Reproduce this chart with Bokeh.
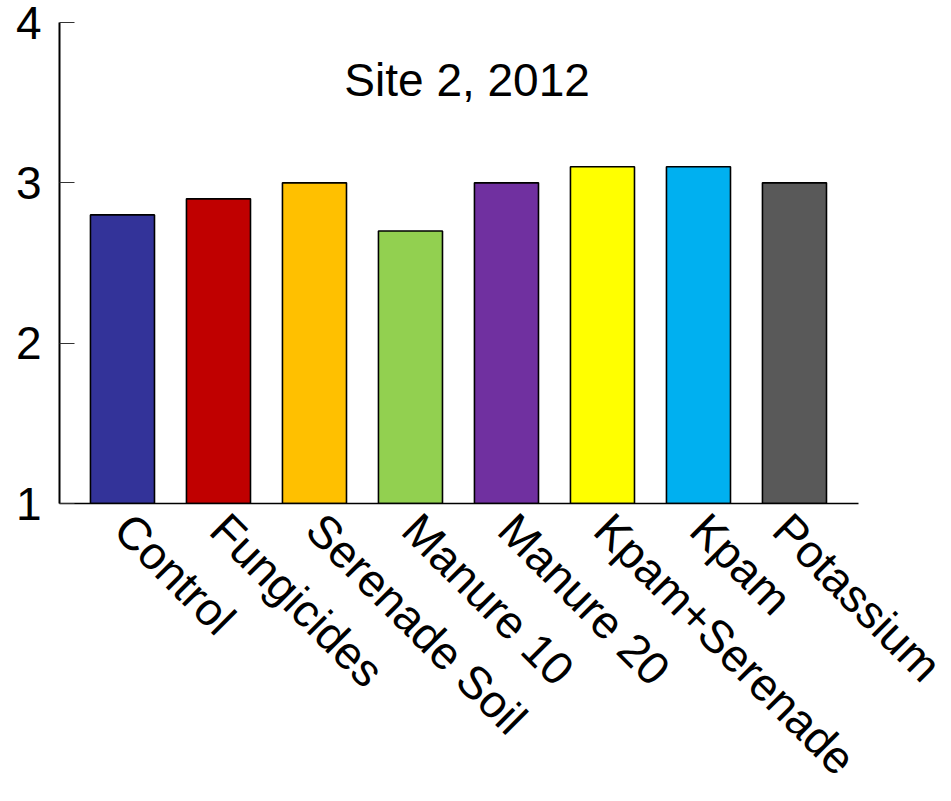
import math
from bokeh.plotting import figure
from bokeh.models import Range1d, FixedTicker, Label, Div
from bokeh.layouts import column
from bokeh.embed import file_html
from bokeh.resources import INLINE

categories = ["Control", "Fungicides", "Serenade Soil", "Manure 10", "Manure 20",
              "Kpam+Serenade", "Kpam", "Potassium"]
values = [2.8, 2.9, 3.0, 2.7, 3.0, 3.1, 3.1, 3.0]
colors = ["#333399", "#C00000", "#FFC000", "#92D050", "#7030A0",
          "#FFFF00", "#00B0F0", "#595959"]
y_ticks = [1, 2, 3, 4]
title_text = "Site 2, 2012"
baseline = 1

xs = list(range(len(categories)))
FONT = "Liberation Sans"

p = figure(width=951, height=796, output_backend="svg", toolbar_location=None,
           x_range=Range1d(-0.656, 7.667), y_range=Range1d(1, 4),
           min_border_left=59, min_border_top=22, min_border_right=93,
           min_border_bottom=293)
p.frame_width = 799
p.frame_height = 481

p.vbar(x=xs, top=values, bottom=baseline, width=0.667, fill_color=colors,
       line_color="black", line_width=1.6)

p.xgrid.visible = False
p.ygrid.visible = False
p.outline_line_color = None

# y axis
p.yaxis.ticker = FixedTicker(ticks=y_ticks)
p.yaxis.major_tick_in = 15
p.yaxis.major_tick_out = 0
p.yaxis.minor_tick_line_color = None
p.yaxis.axis_line_width = 2
p.yaxis.major_tick_line_width = 1.2
p.yaxis.major_tick_line_color = "#333333"
p.yaxis.major_label_text_font = FONT
p.yaxis.major_label_text_font_size = "46px"
p.yaxis.major_label_text_color = "black"
p.yaxis.major_label_standoff = 18

# x axis
p.xaxis.ticker = FixedTicker(ticks=xs)
p.xaxis.major_label_overrides = {i: c for i, c in zip(xs, categories)}
p.xaxis.major_tick_line_color = None
p.xaxis.minor_tick_line_color = None
p.xaxis.axis_line_width = 1.5
p.xaxis.major_label_text_font = FONT
p.xaxis.major_label_text_font_size = "46px"
p.xaxis.major_label_text_color = "black"
p.xaxis.major_label_orientation = -math.pi / 4
p.xaxis.major_label_standoff = 12

p.add_layout(Label(x=3.59, y=3.64, text=title_text, text_align="center",
                   text_baseline="alphabetic", text_font=FONT,
                   text_font_size="46px", text_color="black"))

rule = Div(text="", width=951, height=2,
           stylesheets=[":host { background-color: #222222; display: block; }"],
           styles={"background-color": "#222222"})
layout = column(p, rule, spacing=0)

open("out.html", "w").write(file_html(layout, INLINE))
